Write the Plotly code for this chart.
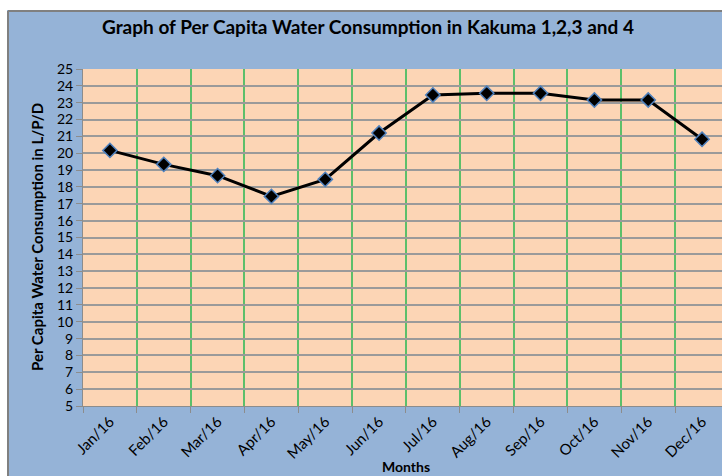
import plotly.graph_objects as go

months = ["Jan/16", "Feb/16", "Mar/16", "Apr/16", "May/16", "Jun/16",
          "Jul/16", "Aug/16", "Sep/16", "Oct/16", "Nov/16", "Dec/16"]
consumption = [20.17, 19.34, 18.67, 17.44, 18.45, 21.2,
               23.46, 23.56, 23.56, 23.16, 23.16, 20.83]
y_ticks = list(range(5, 26))

W, H = 722, 476
L, T, B = 83, 69, 406
pw, ph = W - L, B - T
cat_w = 53.83

FONT = "Lato"

fig = go.Figure()
fig.add_trace(go.Scatter(
    x=months, y=consumption, mode="lines+markers",
    line=dict(color="black", width=3),
    marker=dict(symbol="diamond", size=11, color="black",
                line=dict(color="#4F81BD", width=1.5)),
    showlegend=False, cliponaxis=False,
))

def px_x(p):
    return (p - L) / pw

def px_y(p):
    return (B - p) / ph

# white strips outside the chart frame (top and left)
fig.add_shape(type="rect", xref="paper", yref="paper",
              x0=px_x(-5), x1=px_x(760), y0=px_y(10), y1=px_y(-5),
              fillcolor="white", line=dict(width=0), layer="below")
fig.add_shape(type="rect", xref="paper", yref="paper",
              x0=px_x(-5), x1=px_x(7), y0=px_y(520), y1=px_y(-5),
              fillcolor="white", line=dict(width=0), layer="below")
# gray frame border
fig.add_shape(type="line", xref="paper", yref="paper",
              x0=px_x(8), x1=px_x(760), y0=px_y(11), y1=px_y(11),
              line=dict(color="#808080", width=2), layer="below")
fig.add_shape(type="line", xref="paper", yref="paper",
              x0=px_x(8), x1=px_x(8), y0=px_y(11), y1=px_y(520),
              line=dict(color="#808080", width=2), layer="below")

fig.add_annotation(text="<b>Graph of Per Capita Water Consumption in Kakuma 1,2,3 and 4</b>",
                   xref="paper", yref="paper", x=px_x(368), y=px_y(27),
                   showarrow=False, font=dict(family=FONT, size=19, color="black"),
                   xanchor="center", yanchor="middle")
fig.add_annotation(text="<b>Per Capita Water Consumption in L/P/D</b>",
                   xref="paper", yref="paper", x=px_x(37), y=px_y(237),
                   showarrow=False, textangle=-90,
                   font=dict(family=FONT, size=15, color="black"),
                   xanchor="center", yanchor="middle")
fig.add_annotation(text="<b>Months</b>",
                   xref="paper", yref="paper", x=px_x(406), y=px_y(466),
                   showarrow=False,
                   font=dict(family=FONT, size=14, color="black"),
                   xanchor="center", yanchor="middle")

fig.update_layout(
    width=W, height=H,
    margin=dict(l=L, r=0, t=T, b=H - B, pad=0, autoexpand=False),
    paper_bgcolor="#95B3D7",
    plot_bgcolor="#FCD5B5",
    font=dict(family=FONT, size=14, color="black"),
)
fig.update_xaxes(
    type="category", tickson="boundaries",
    range=[-0.5, -0.5 + pw / cat_w],
    showgrid=True, gridcolor="#5CBF6A", gridwidth=1.5,
    ticks="outside", ticklen=6, tickcolor="#8C8C8C",
    tickangle=-45, tickfont=dict(size=15),
    showline=True, linecolor="#8C8C8C", linewidth=1,
    zeroline=False,
)
fig.update_yaxes(
    range=[5, 25], tickvals=y_ticks, ticktext=[str(v) for v in y_ticks],
    showgrid=True, gridcolor="#9A9A9A", gridwidth=1.5,
    ticks="outside", ticklen=6, tickcolor="#8C8C8C",
    tickfont=dict(size=14),
    showline=True, linecolor="#8C8C8C", linewidth=1,
    zeroline=False,
)

fig.write_html("out.html", config={"displayModeBar": False},
               post_script="document.body.style.margin='0';")
